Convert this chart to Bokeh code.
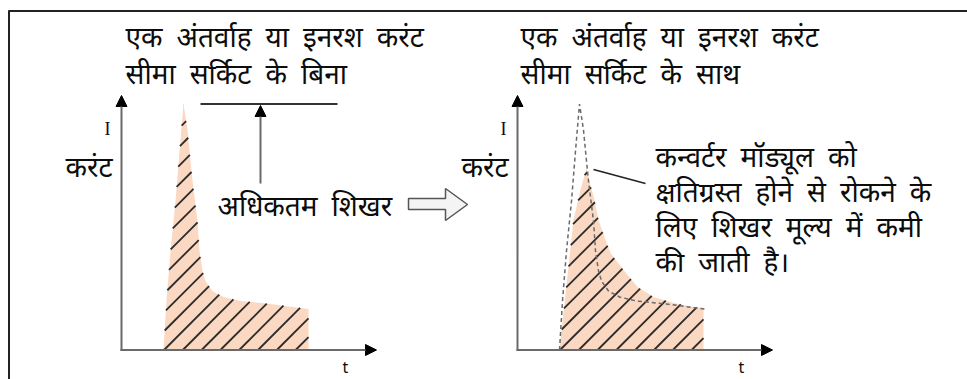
import math
import numpy as np
from bokeh.plotting import figure
from bokeh.models import Range1d, Arrow, NormalHead
from bokeh.core.properties import value
from bokeh.embed import file_html
from bokeh.resources import INLINE

# ---------------- data ----------------
# panel axis origins (picture pixels) and axis extents
panel_origin_x = [121, 517]
panel_origin_y = [349.5, 349.5]
axis_top_y = 95
axis_len_x = 255

# inrush current without limiter (t, I relative to axis origin, px units)
inrush_t = [42, 45, 49, 54, 58, 62, 66, 68, 71, 76, 78, 81, 84, 91, 102, 119, 149, 179, 187, 187]
inrush_i = [0, 49, 99, 149, 199, 246, 220, 199, 169, 129, 99, 79, 69, 59, 53, 49, 46, 42, 41, 0]

# inrush current with limiter
limited_t = [42, 49, 56, 63, 69, 73, 77, 81, 88, 93, 106, 120, 136, 156, 176, 186, 186]
limited_i = [0, 65, 130, 160, 182, 165, 150, 130, 110, 97, 80, 63, 53, 47, 43, 42, 0]

SP = "\u2002"
title_left = ["एक अंतर्वाह या इनरश करंट", "सीमा सर्किट के बिना"]
title_right = ["एक अंतर्वाह या इनरश करंट", "सीमा सर्किट के साथ"]
y_label = "करंट"
y_symbol = "I"
x_symbol = "t"
peak_label = "अधिकतम शिखर"
note_lines = ["कन्वर्टर मॉड्यूल को", "क्षतिग्रस्त होने से रोकने के",
              "लिए शिखर मूल्य में कमी", "की जाती है।"]

# hollow block arrow outline (picture pixels)
block_x = [408, 445, 445, 467, 445, 445, 408]
block_y = [198, 198, 188, 204, 220, 209, 209]

FONT = value("Noto Sans")
TXT = "#0c0c0c"
W, H = 967, 379
HATCH_STEP = 18.8

p = figure(width=W, height=H, x_range=Range1d(0, W), y_range=Range1d(H, 0),
           output_backend="svg", toolbar_location=None, min_border=0,
           x_axis_location=None, y_axis_location=None)
p.grid.visible = False
p.outline_line_color = None
p.background_fill_color = "white"

# frame lines
p.line([8, W], [10.5, 10.5], line_color="#222222", line_width=2)
p.line([8.5, 8.5], [10, H], line_color="#222222", line_width=2)


def hatch_segments(px, py, k0, step):
    """45-degree '/' hatch lines (x + y = k) clipped to polygon px, py."""
    xs, ys = [], []
    n = len(px)
    s = [a + b for a, b in zip(px, py)]
    k = k0 + step * math.ceil((min(s) - k0) / step)
    while k <= max(s):
        pts = []
        for i in range(n):
            x1, y1, x2, y2 = px[i], py[i], px[(i + 1) % n], py[(i + 1) % n]
            f1, f2 = x1 + y1 - k, x2 + y2 - k
            if (f1 < 0) != (f2 < 0):
                t = f1 / (f1 - f2)
                pts.append((x1 + t * (x2 - x1), y1 + t * (y2 - y1)))
        pts.sort()
        for j in range(0, len(pts) - 1, 2):
            xs.append([pts[j][0], pts[j + 1][0]])
            ys.append([pts[j][1], pts[j + 1][1]])
        k += step
    return xs, ys


FILL = "#fbd8c2"
for ox, oy, tt, ii in [(panel_origin_x[0], panel_origin_y[0], inrush_t, inrush_i),
                       (panel_origin_x[1], panel_origin_y[1], limited_t, limited_i)]:
    px = list(ox + np.array(tt, dtype=float))
    py = list(oy - np.array(ii, dtype=float))
    p.patch(px, py, fill_color=FILL, line_color=None)
    hx, hy = hatch_segments(px, py, ox + tt[0] + oy + 0.5, HATCH_STEP)
    p.multi_line(hx, hy, line_color="#2b2b2b", line_width=1.8)

ox1, oy1 = panel_origin_x[1], panel_origin_y[1]
p.line(ox1 + np.array(inrush_t[:-1]), oy1 - np.array(inrush_i[:-1]), line_color="#6a6a6a",
       line_width=1.5, line_dash="4 3")

# axes with arrows
for ox, oy in zip(panel_origin_x, panel_origin_y):
    p.add_layout(Arrow(x_start=ox, y_start=oy + 1, x_end=ox, y_end=axis_top_y,
                       line_color="#6a6a6a", line_width=2,
                       end=NormalHead(size=11, fill_color="black", line_color="black")))
    p.add_layout(Arrow(x_start=ox - 1, y_start=oy, x_end=ox + axis_len_x, y_end=oy,
                       line_color="#6a6a6a", line_width=2,
                       end=NormalHead(size=11, fill_color="black", line_color="black")))

# max peak marker
p.line([200, 337], [103.5, 103.5], line_color="#333333", line_width=2)
p.add_layout(Arrow(x_start=260, y_start=183, x_end=260, y_end=105,
                   line_color="#6a6a6a", line_width=2,
                   end=NormalHead(size=11, fill_color="black", line_color="black")))

# block arrow
p.patch(block_x, block_y, fill_color="#f4f4f4", line_color="#555555", line_width=1.5)

# leader line
p.line([593, 645], [169, 183], line_color="#222222", line_width=1.5)


def txt(x, y, s, size="28px", align="left", font=FONT):
    p.text(x=[x], y=[y], text=[s.replace(" ", SP)], text_font=font, text_font_size=size,
           text_color=TXT, text_align=align, text_baseline="middle")


for i, s in enumerate(title_left):
    txt(125, 35 + 37 * i, s)
for i, s in enumerate(title_right):
    txt(520, 35 + 37 * i, s)
for ox in panel_origin_x:
    txt(ox - 14, 128, y_symbol, size="18px", align="center", font=value("Liberation Serif"))
    txt(ox - 9, 165, y_label, align="right")
    txt(ox + 224, 366, x_symbol, size="16px", align="center")
txt(217, 204, peak_label)
for i, s in enumerate(note_lines):
    txt(655, 155 + 35 * i, s)

open("out.html", "w").write(file_html(p, INLINE))
